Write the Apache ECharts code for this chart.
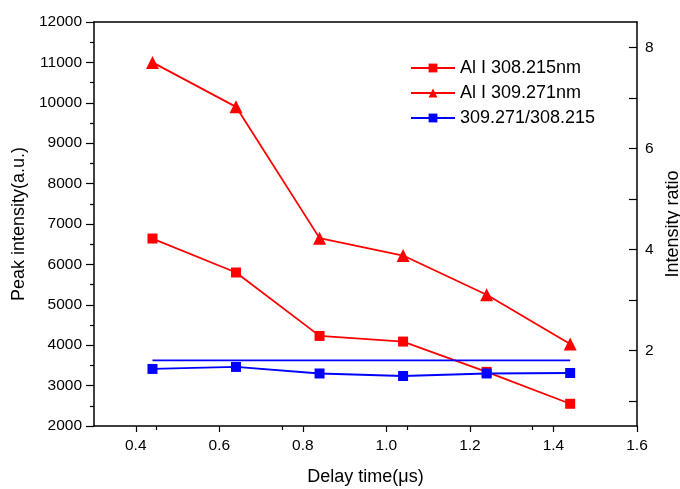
<!DOCTYPE html>
<html>
<head>
<meta charset="utf-8">
<script src="https://cdn.jsdelivr.net/npm/echarts@6/dist/echarts.min.js"></script>
<style>
  html, body { margin: 0; padding: 0; background: #fff; }
  #chart { width: 680px; height: 489px; }
</style>
</head>
<body>
<div id="chart"></div>
<script>
// delay times (us)
const delayTimes = [0.44, 0.64, 0.84, 1.04, 1.24, 1.44];
const peak308 = [6640, 5800, 4230, 4090, 3340, 2550];
const peak309 = [11000, 9900, 6650, 6220, 5250, 4030];
const ratio = [1.63, 1.67, 1.54, 1.49, 1.54, 1.55];
// flat reference line on the ratio axis
const refLineX = [0.44, 1.44];
const refLineY = [1.8, 1.8];

const seriesNames = ['Al I 308.215nm', 'Al I 309.271nm', '309.271/308.215'];
const xTicks = [0.4, 0.6, 0.8, 1.0, 1.2, 1.4, 1.6];
const ratioTicks = [2, 4, 6, 8];
const ratioMinorTicks = [1, 2, 3, 4, 5, 6, 7, 8];

const font = 'Arial, "Liberation Sans", sans-serif';

function pairs(xs, ys) {
  return xs.map((x, i) => [x, ys[i]]);
}

const chart = echarts.init(document.getElementById('chart'));

const option = {
  animation: false,
  textStyle: {fontFamily: font},
  grid: {left: 94, right: 43, top: 22, bottom: 63, outerBoundsMode: 'none', containLabel: false},
  legend: {
    data: seriesNames,
    orient: 'vertical',
    left: 405,
    top: 54,
    itemWidth: 44,
    itemHeight: 11,
    itemGap: 7,
    textStyle: {fontSize: 18, color: '#000', fontFamily: font}
  },
  xAxis: [
    {
      type: 'value',
      min: 0.3,
      max: 1.6,
      position: 'bottom',
      name: 'Delay time(\u03bcs)',
      nameLocation: 'middle',
      nameGap: 42,
      nameTextStyle: {fontSize: 18, color: '#000'},
      axisLine: {lineStyle: {color: '#000', width: 1.5}},
      axisTick: {length: 6, lineStyle: {color: '#000', width: 1.2}, customValues: xTicks},
      minorTick: {show: true, splitNumber: 2, length: 4, lineStyle: {color: '#000', width: 1.2}},
      axisLabel: {fontSize: 15.5, color: '#000', margin: 12,
        customValues: xTicks,
        formatter: v => v.toFixed(1)},
      splitLine: {show: false}
    },
    {
      type: 'value',
      min: 0.3,
      max: 1.6,
      position: 'top',
      axisLine: {onZero: false, lineStyle: {color: '#000', width: 1.5}},
      axisTick: {show: false},
      axisLabel: {show: false},
      splitLine: {show: false}
    }
  ],
  yAxis: [
    {
      type: 'value',
      min: 2000,
      max: 12000,
      interval: 1000,
      position: 'left',
      name: 'Peak intensity(a.u.)',
      nameLocation: 'middle',
      nameGap: 64,
      nameTextStyle: {fontSize: 18, color: '#000'},
      axisLine: {show: true, lineStyle: {color: '#000', width: 1.5}},
      axisTick: {length: 8, lineStyle: {color: '#000', width: 1.2}},
      minorTick: {show: true, splitNumber: 2, length: 4, lineStyle: {color: '#000', width: 1.2}},
      axisLabel: {fontSize: 15.5, color: '#000', margin: 12, formatter: v => String(v)},
      splitLine: {show: false}
    },
    {
      type: 'value',
      min: 0.5,
      max: 8.5,
      position: 'right',
      name: 'Intensity ratio',
      nameLocation: 'middle',
      nameGap: 21,
      nameTextStyle: {fontSize: 18, color: '#000'},
      axisLine: {show: true, lineStyle: {color: '#000', width: 1.5}},
      axisTick: {inside: true, length: 8, lineStyle: {color: '#000', width: 1.2},
        customValues: ratioMinorTicks},
      axisLabel: {fontSize: 15.5, color: '#000', margin: 8,
        customValues: ratioTicks},
      splitLine: {show: false}
    }
  ],
  series: [
    {
      name: seriesNames[0],
      type: 'line',
      xAxisIndex: 0,
      yAxisIndex: 0,
      data: pairs(delayTimes, peak308),
      symbol: 'rect',
      symbolSize: 10,
      lineStyle: {color: '#ff0000', width: 1.8},
      itemStyle: {color: '#ff0000'}
    },
    {
      name: seriesNames[1],
      type: 'line',
      xAxisIndex: 0,
      yAxisIndex: 0,
      data: pairs(delayTimes, peak309),
      symbol: 'triangle',
      symbolSize: 13,
      lineStyle: {color: '#ff0000', width: 1.8},
      itemStyle: {color: '#ff0000'}
    },
    {
      name: seriesNames[2],
      type: 'line',
      xAxisIndex: 0,
      yAxisIndex: 1,
      data: pairs(delayTimes, ratio),
      symbol: 'rect',
      symbolSize: 10,
      lineStyle: {color: '#0000ff', width: 1.8},
      itemStyle: {color: '#0000ff'},
      z: 3
    },
    {
      name: 'ref',
      type: 'line',
      xAxisIndex: 0,
      yAxisIndex: 1,
      data: pairs(refLineX, refLineY),
      symbol: 'none',
      lineStyle: {color: '#0000ff', width: 1.8}
    }
  ]
};

chart.setOption(option);
</script>
</body>
</html>
